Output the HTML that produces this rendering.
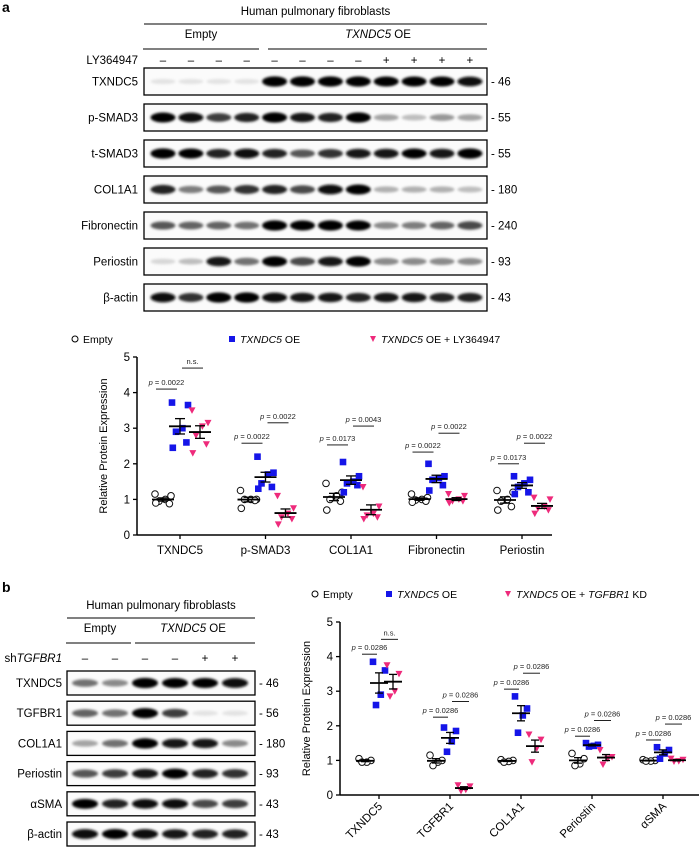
<!DOCTYPE html>
<html><head><meta charset="utf-8"><style>
body{margin:0;background:#fff}
svg{display:block;font-family:"Liberation Sans",Arial,sans-serif}
</style></head><body>
<svg id="fig" width="699" height="849" viewBox="0 0 699 849" xmlns="http://www.w3.org/2000/svg">
<defs><filter id="blur" x="-30%" y="-100%" width="160%" height="300%"><feGaussianBlur stdDeviation="1.3"/></filter></defs>
<text x="2" y="12" font-size="14" font-weight="bold">a</text>
<text x="2" y="592" font-size="14" font-weight="bold">b</text>
</svg>
<script>
// ---------- Blot data ----------
const blotARows = ["TXNDC5","p-SMAD3","t-SMAD3","COL1A1","Fibronectin","Periostin","β-actin"];
const blotAMW = ["46","55","55","180","240","93","43"];
const blotATreat = ["–","–","–","–","–","–","–","–","+","+","+","+"];
const blotAInt = [
 [.05,.05,.05,.05,1,1,1,1,.95,.95,.95,.9],
 [.95,.9,.7,.8,1,.85,.8,1,.3,.2,.35,.3],
 [1,.95,.8,.9,.8,.6,.75,.85,.85,.95,.85,1],
 [.8,.45,.6,.75,.8,.65,.9,.95,.25,.25,.25,.2],
 [.6,.55,.55,.5,1,.95,1,.95,.4,.45,.55,.65],
 [.1,.2,.85,.5,1,.65,.85,1,.4,.4,.4,.4],
 [.9,.75,1,1,.9,.85,.85,.8,.85,.85,.8,.8]];
const blotBRows = ["TXNDC5","TGFBR1","COL1A1","Periostin","αSMA","β-actin"];
const blotBMW = ["46","56","180","93","43","43"];
const blotBTreat = ["–","–","–","–","+","+"];
const blotBInt = [
 [.5,.4,1,.95,.95,.9],
 [.55,.5,1,.7,.05,.05],
 [.3,.5,1,.85,.85,.4],
 [.6,.7,.85,.95,.8,.75],
 [.95,.8,.9,.9,.65,.7],
 [.9,.95,.9,.85,.8,.8]];

// ---------- Chart A data ----------
const catsA = ["TXNDC5","p-SMAD3","COL1A1","Fibronectin","Periostin"];
const emptyA = [[1.15,1.1,1.0,0.95,0.88,0.9],[1.25,1.0,1.0,1.0,0.97,0.75],[1.45,1.2,1.1,1.0,0.95,0.7],[1.15,1.05,1.0,0.98,0.95,0.92],[1.25,1.2,1.0,0.95,0.8,0.7]];
const oeA = [[3.72,3.65,3.0,2.9,2.6,2.45],[2.2,1.75,1.7,1.45,1.35,1.3],[2.05,1.65,1.5,1.45,1.4,1.2],[2.0,1.65,1.6,1.55,1.4,1.25],[1.65,1.55,1.45,1.35,1.2,1.15]];
const lyA = [[3.5,3.15,3.05,2.8,2.55,2.3],[1.1,0.75,0.6,0.5,0.45,0.3],[1.35,0.8,0.6,0.55,0.5,0.45],[1.15,1.1,1.0,0.95,0.95,0.9],[1.05,1.0,0.8,0.75,0.7,0.6]];
const ann1YA = [4.1,2.58,2.53,2.33,2.0];
const ann1LblA = ["p = 0.0022","p = 0.0022","p = 0.0173","p = 0.0022","p = 0.0173"];
const ann2YA = [4.69,3.15,3.06,2.86,2.58];
const ann2LblA = ["n.s.","p = 0.0022","p = 0.0043","p = 0.0022","p = 0.0022"];
const yTicksA = [0,1,2,3,4,5];

// ---------- Chart B data ----------
const catsB = ["TXNDC5","TGFBR1","COL1A1","Periostin","αSMA"];
const emptyB = [[1.05,1.0,0.95,0.95],[1.15,1.0,0.95,0.85],[1.02,1.0,0.97,0.95],[1.2,1.05,0.9,0.85],[1.02,1.0,0.98,0.98]];
const oeB = [[3.85,3.6,2.9,2.6],[1.95,1.85,1.55,1.25],[2.85,2.5,2.3,1.8],[1.5,1.45,1.42,1.4],[1.38,1.3,1.2,1.05]];
const kdB = [[3.75,3.5,3.0,2.85],[0.28,0.25,0.15,0.12],[1.75,1.6,1.35,0.95],[1.3,1.1,1.05,0.88],[1.05,1.02,0.98,0.97]];
const ann1YB = [4.07,2.25,3.06,1.7,1.59];
const ann1LblB = ["p = 0.0286","p = 0.0286","p = 0.0286","p = 0.0286","p = 0.0286"];
const ann2YB = [4.5,2.7,3.52,2.15,2.05];
const ann2LblB = ["n.s.","p = 0.0286","p = 0.0286","p = 0.0286","p = 0.0286"];
const yTicksB = [0,1,2,3,4,5];

const JIT=[-1,1,0.3,-0.5,0.8,-0.9];
const NS="http://www.w3.org/2000/svg";
const svg=document.getElementById('fig');
function mk(tag,attrs,parent){const e=document.createElementNS(NS,tag);for(const k in attrs)e.setAttribute(k,attrs[k]);(parent||svg).appendChild(e);return e;}
function txt(x,y,s,size,anchor,extra){const t=mk('text',Object.assign({x:x,y:y,'font-size':size,'text-anchor':anchor||'start'},extra||{}));t.textContent=s;return t;}

// ---------- Blot drawing ----------
function drawBlot(cfg){
  const g=mk('g',{});
  
  
  let t=txt((cfg.x0+cfg.x1)/2,cfg.headY,"Human pulmonary fibroblasts",cfg.fs,'middle');
  
  
  mk('line',{x1:cfg.x0,x2:cfg.x1,y1:cfg.headY+9,y2:cfg.headY+9,stroke:'#000','stroke-width':1});
  t=txt(cfg.emptyC,cfg.grpY,"Empty",cfg.fs,'middle');
  
  
  mk('line',{x1:cfg.x0-1,x2:cfg.emptyEnd,y1:cfg.grpY+11,y2:cfg.grpY+11,stroke:'#000','stroke-width':1});
  t=mk('text',{x:cfg.oeC,y:cfg.grpY,'font-size':cfg.fs,'text-anchor':'middle'});
  t.innerHTML='<tspan font-style="italic">TXNDC5</tspan> OE';
  
  
  mk('line',{x1:cfg.oeStart,x2:cfg.x1,y1:cfg.grpY+11,y2:cfg.grpY+11,stroke:'#000','stroke-width':1});
  t=mk('text',{x:cfg.labX,y:cfg.trY,'font-size':cfg.fs,'text-anchor':'end'});
  t.innerHTML=cfg.treatLabel;
  
  
  cfg.treat.forEach((s,i)=>{const tt=txt(cfg.lane0+i*cfg.dl,cfg.trY,s,cfg.fs,'middle');
    
    });
  cfg.rows.forEach((r,ri)=>{
    const y=cfg.rowY0+ri*cfg.dy;
    const rg=mk('g',{},g);
    
    
    mk('rect',{x:cfg.x0,y:y,width:cfg.x1-cfg.x0,height:cfg.h,fill:'#fbfbfb',stroke:'#000','stroke-width':1.3},rg);
    cfg.ints[ri].forEach((v,li)=>{
      const c=Math.max(0,Math.round(240-255*v));
      const b=mk('ellipse',{cx:cfg.lane0+li*cfg.dl,cy:y+cfg.h/2,rx:cfg.bw/2,ry:2.5+2.6*v,fill:`rgb(${c},${c},${c})`,filter:'url(#blur)'},rg);
      
      
    });
    const lt=txt(cfg.labX,y+cfg.h/2+4,r,cfg.fs,'end',{},rg);
    
    
    const mw=txt(cfg.x1+4,y+cfg.h/2+4,'- '+cfg.mw[ri],cfg.fs,'start');
    
    
  });
}
drawBlot({name:'blot-a',x0:144,x1:487,headY:15,grpY:38,trY:64,emptyC:201,emptyEnd:259,oeStart:268,oeC:378,
  labX:138,lane0:163,dl:27.9,rowY0:68,dy:36,h:27,bw:25,fs:11.5,rows:blotARows,ints:blotAInt,mw:blotAMW,
  treat:blotATreat,treatLabel:'LY364947'});
drawBlot({name:'blot-b',x0:67,x1:255,headY:609,grpY:632,trY:662,emptyC:100,emptyEnd:131,oeStart:135,oeC:193,
  labX:62,lane0:85,dl:30,rowY0:671,dy:30.2,h:24,bw:26,fs:11.5,rows:blotBRows,ints:blotBInt,mw:blotBMW,
  treat:blotBTreat,treatLabel:'sh<tspan font-style="italic">TGFBR1</tspan>'});

// ---------- Chart drawing ----------
function drawChart(c){
  const g=mk('g',{});
  
  
  const Y=v=>c.y0-v*(c.y0-c.y5)/5;
  const X=i=>c.x0tick+i*c.dx;
  let e=mk('circle',{cx:c.leg[0],cy:c.legY-4,r:3,fill:'#fff',stroke:'#000','stroke-width':1},g);
  
  
  let t=txt(c.leg[0]+8,c.legY,'Empty',10.5,'start');
  
  
  e=mk('rect',{x:c.leg[1]-3,y:c.legY-7,width:6,height:6,fill:'#1515e8'},g);
  
  
  t=mk('text',{x:c.leg[1]+8,y:c.legY,'font-size':10.5});
  t.innerHTML='<tspan font-style="italic">TXNDC5</tspan> OE';
  
  
  e=mk('path',{d:`M${c.leg[2]-3},${c.legY-7}h6l-3,6z`,fill:'#ee2a7b'},g);
  
  
  t=mk('text',{x:c.leg[2]+8,y:c.legY,'font-size':10.5});
  t.innerHTML=c.thirdLabel;
  
  
  mk('line',{x1:c.xa,x2:c.xa,y1:Y(5),y2:c.y0,stroke:'#000','stroke-width':1.5},g);
  mk('line',{x1:c.xa,x2:c.xEnd,y1:c.y0,y2:c.y0,stroke:'#000','stroke-width':1.5},g);
  c.yt.forEach(v=>{
    mk('line',{x1:c.xa-4,x2:c.xa,y1:Y(v),y2:Y(v),stroke:'#000','stroke-width':1.3},g);
    const tl=txt(c.xa-7,Y(v)+4,String(v),11.5,'end');
    
    
  });
  t=txt(0,0,'Relative Protein Expression',11,'middle',{transform:`translate(${c.ytX},${(Y(0)+Y(5))/2}) rotate(-90)`});
  
  
  const series=[[c.s1,'empty'],[c.s2,'oe'],[c.s3,'third']];
  c.cats.forEach((cat,i)=>{
    const tx=X(i);
    mk('line',{x1:tx,x2:tx,y1:c.y0,y2:c.y0+4,stroke:'#000','stroke-width':1.3},g);
    let cl;
    if(c.rot){cl=txt(tx+4,c.y0+12,cat,11.5,'end',{transform:`rotate(-45 ${tx+4} ${c.y0+12})`});}
    else cl=txt(tx,c.y0+19,cat,11.5,'middle');
    
    
    series.forEach(([arr,kind],si)=>{
      const vals=arr[i];
      const cx=tx+c.off[si];
      const n=vals.length;
      vals.forEach((v,k)=>{
        const jx=cx+JIT[k]*c.jit;
        let m;
        if(kind==='empty') m=mk('circle',{cx:jx,cy:Y(v),r:3.3,fill:'#fff',stroke:'#111','stroke-width':1},g);
        else if(kind==='oe') m=mk('rect',{x:jx-3.3,y:Y(v)-3.3,width:6.6,height:6.6,fill:'#1515e8'},g);
        else m=mk('path',{d:`M${jx-3.5},${Y(v)-3}h7l-3.5,6.5z`,fill:'#ee2a7b'},g);
        
        
      });
      const mean=vals.reduce((a,b)=>a+b,0)/n;
      const sd=Math.sqrt(vals.reduce((a,b)=>a+(b-mean)**2,0)/(n-1));
      const sem=sd/Math.sqrt(n);
      const eb=mk('g',{stroke:'#000','stroke-width':1.3},g);
      
      
      mk('line',{x1:cx-c.mw,x2:cx+c.mw,y1:Y(mean),y2:Y(mean),'stroke-width':1.8},eb);
      mk('line',{x1:cx,x2:cx,y1:Y(mean-sem),y2:Y(mean+sem)},eb);
      mk('line',{x1:cx-c.cap,x2:cx+c.cap,y1:Y(mean-sem),y2:Y(mean-sem)},eb);
      mk('line',{x1:cx-c.cap,x2:cx+c.cap,y1:Y(mean+sem),y2:Y(mean+sem)},eb);
    });
    [[c.a1Y,c.a1L,c.a1x],[c.a2Y,c.a2L,c.a2x]].forEach(([ys,ls,rx])=>{
      const y=Y(ys[i]);
      const l=mk('line',{x1:tx+rx[0],x2:tx+rx[1],y1:y,y2:y,stroke:'#000','stroke-width':0.9},g);
      
      
      const lab=ls[i];
      const at=mk('text',{x:tx+(rx[0]+rx[1])/2,y:y-4,'font-size':c.afs,'text-anchor':'middle',fill:'#222'},g);
      if(lab.startsWith('p')) at.innerHTML='<tspan font-style="italic">p</tspan>'+lab.slice(1);
      else at.textContent=lab;
      
      
    });
  });
}
drawChart({name:'chart-a',cats:catsA,s1:emptyA,s2:oeA,s3:lyA,yt:yTicksA,y0:535,y5:357,xa:137,xEnd:552,
  x0tick:180,dx:85.5,off:[-17,0,20],jit:8,mw:11,cap:5,leg:[75,232,373],legY:343,ytX:107,rot:false,afs:7.5,
  a1Y:ann1YA,a1L:ann1LblA,a1x:[-24,-3],a2Y:ann2YA,a2L:ann2LblA,a2x:[2,23],
  thirdLabel:'<tspan font-style="italic">TXNDC5</tspan> OE + LY364947'});
drawChart({name:'chart-b',cats:catsB,s1:emptyB,s2:oeB,s3:kdB,yt:yTicksB,y0:795,y5:622,xa:340,xEnd:699,
  x0tick:379,dx:71,off:[-14,0,14],jit:6,mw:9,cap:4,leg:[315,389,508],legY:598,ytX:310,rot:true,afs:7.5,
  a1Y:ann1YB,a1L:ann1LblB,a1x:[-17,-2],a2Y:ann2YB,a2L:ann2LblB,a2x:[2,19],
  thirdLabel:'<tspan font-style="italic">TXNDC5</tspan> OE + <tspan font-style="italic">TGFBR1</tspan> KD'});
</script>
</body></html>
